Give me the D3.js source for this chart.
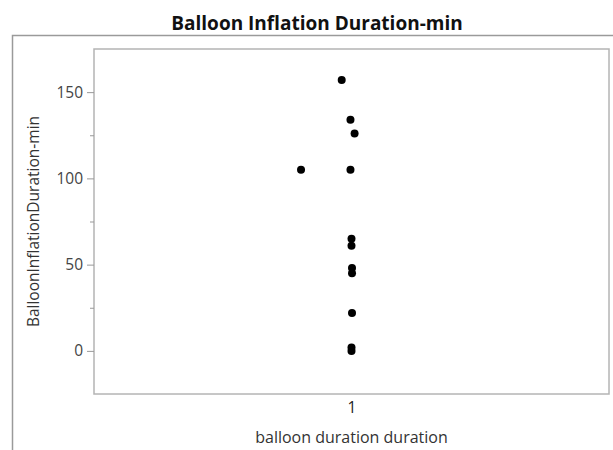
<!DOCTYPE html>
<html>
<head>
<meta charset="utf-8">
<script src="https://d3js.org/d3.v7.min.js"></script>
<style>
body { margin: 0; background: #fff; }
text { font-family: "Open Sans", "Noto Sans", sans-serif; }
</style>
</head>
<body>
<svg id="chart" width="613" height="450"></svg>
<script>
// values
var categories = ["1"];
var durations = [157, 134, 126, 105, 105, 65, 61, 48, 45, 22, 2, 0];
// horizontal jitter of each point, in category units
var jitter = [-0.019, -0.002, 0.006, -0.098, -0.002, 0, 0, 0.001, 0.001, 0.001, 0, 0];
var yTicks = [0, 50, 100, 150];
var yMinorTicks = [25, 75, 125];

var svg = d3.select("#chart");

var plotLeft = 94, plotRight = 609, plotTop = 49, plotBottom = 394;

// x: one category at value 1
var x = d3.scaleLinear()
  .domain([0.5, 1.5])
  .range([plotLeft, plotRight]);

var y = d3.scaleLinear()
  .domain([-25, 175])
  .range([plotBottom, plotTop]);

// outer frame
svg.append("path")
  .attr("d", "M12.5,450 V35.5 H613")
  .attr("fill", "none")
  .attr("stroke", "#9a9a9a")
  .attr("stroke-width", 1.5);

// title
svg.append("text")
  .attr("x", 317)
  .attr("y", 30)
  .attr("text-anchor", "middle")
  .style("font-size", "19px")
  .style("font-weight", "bold")
  .attr("fill", "#111")
  .text("Balloon Inflation Duration-min");

// plot box
svg.append("rect")
  .attr("x", plotLeft)
  .attr("y", plotTop)
  .attr("width", plotRight - plotLeft)
  .attr("height", plotBottom - plotTop)
  .attr("fill", "none")
  .attr("stroke", "#b4b4b4")
  .attr("stroke-width", 1.5);

// y axis
var yAxis = svg.append("g")
  .attr("transform", "translate(" + plotLeft + ",0)")
  .call(d3.axisLeft(y).tickValues(yTicks).tickSize(7).tickPadding(4));
yAxis.select(".domain").remove();
yAxis.selectAll("line").attr("stroke", "#999");
yAxis.selectAll("text")
  .style("font-size", "15.5px")
  .style("font-family", "'Open Sans', 'Noto Sans', sans-serif")
  .attr("fill", "#444");

var yMinor = svg.append("g")
  .attr("transform", "translate(" + plotLeft + ",0)")
  .call(d3.axisLeft(y).tickValues(yMinorTicks).tickSize(4).tickFormat(""));
yMinor.select(".domain").remove();
yMinor.selectAll("line").attr("stroke", "#999");

// x axis
var xAxis = svg.append("g")
  .attr("transform", "translate(0," + plotBottom + ")")
  .call(d3.axisBottom(x).tickValues([1]).tickSize(0).tickPadding(8)
    .tickFormat(function(d, i) { return categories[i]; }));
xAxis.select(".domain").remove();
xAxis.selectAll("text")
  .style("font-size", "15.5px")
  .style("font-family", "'Open Sans', 'Noto Sans', sans-serif")
  .attr("fill", "#222");

// axis titles
svg.append("text")
  .attr("x", x(1))
  .attr("y", 443)
  .attr("text-anchor", "middle")
  .style("font-size", "16px")
  .attr("fill", "#333")
  .text("balloon duration duration");

svg.append("text")
  .attr("transform", "translate(39," + ((plotTop + plotBottom) / 2) + ") rotate(-90)")
  .attr("text-anchor", "middle")
  .style("font-size", "15.5px")
  .attr("fill", "#333")
  .text("BalloonInflationDuration-min");

// points
svg.selectAll("circle.pt")
  .data(durations)
  .enter().append("circle")
  .attr("class", "pt")
  .attr("cx", function(d, i) { return x(1 + jitter[i]); })
  .attr("cy", function(d) { return y(d); })
  .attr("r", 4)
  .attr("fill", "#000");
</script>
</body>
</html>
